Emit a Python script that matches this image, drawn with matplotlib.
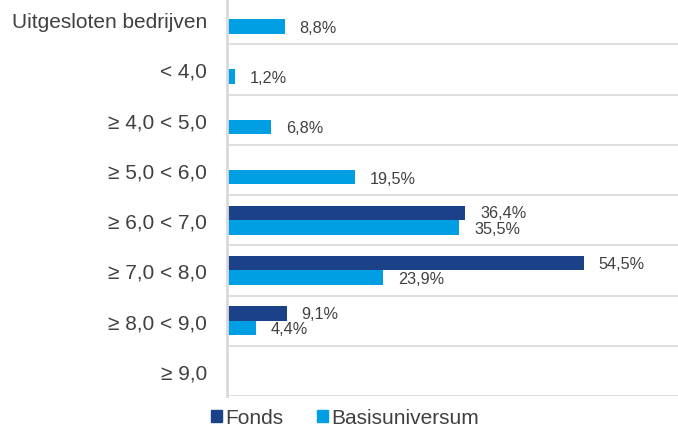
import matplotlib.pyplot as plt
import numpy as np
from matplotlib.patches import Patch

categories = [
    "Uitgesloten bedrijven",
    "< 4,0",
    "≥ 4,0 < 5,0",
    "≥ 5,0 < 6,0",
    "≥ 6,0 < 7,0",
    "≥ 7,0 < 8,0",
    "≥ 8,0 < 9,0",
    "≥ 9,0",
]
fonds = [None, None, None, None, 36.4, 54.5, 9.1, None]
basis = [8.8, 1.2, 6.8, 19.5, 35.5, 23.9, 4.4, None]

dark_blue = "#1b4288"
light_blue = "#009fe3"
text_color = "#404040"
grid_color = "#d9d9d9"

plt.rcParams["font.family"] = ["Liberation Sans", "DejaVu Sans"]

fig = plt.figure(figsize=(6.78, 4.27), dpi=100)
ax = fig.add_axes([227 / 678, 30 / 427, 458 / 678, 402 / 427])

y = np.arange(len(categories))
bar_h = 0.29
off = 0.145

for i in range(len(categories)):
    if fonds[i] is not None:
        ax.barh(y[i] - off, fonds[i], height=bar_h, color=dark_blue)
        ax.text(fonds[i] + 2.3, y[i] - off, f"{fonds[i]:.1f}%".replace(".", ","),
                va="center", ha="left", fontsize=11.7, color=text_color)
    if basis[i] is not None:
        ax.barh(y[i] + off, basis[i], height=bar_h, color=light_blue)
        ax.text(basis[i] + 2.3, y[i] + off + 0.02, f"{basis[i]:.1f}%".replace(".", ","),
                va="center", ha="left", fontsize=11.7, color=text_color)

ax.set_xlim(0, 70)
ax.set_ylim(len(categories) - 0.5, -0.5)
ax.set_yticks(y)
ax.set_yticklabels(categories, fontsize=15, color=text_color)
ax.tick_params(axis="y", length=0, pad=14.4)
ax.set_xticks([])

for b in np.arange(-0.5, len(categories), 1.0):
    ax.axhline(b, color=grid_color, linewidth=1.2, zorder=0)

for s in ["top", "right", "bottom"]:
    ax.spines[s].set_visible(False)
ax.spines["left"].set_color(grid_color)
ax.spines["left"].set_linewidth(2)

handles = [Patch(color=dark_blue, label="Fonds"), Patch(color=light_blue, label="Basisuniversum")]
fig.legend(handles=handles, loc="center", bbox_to_anchor=(345 / 678, 1 - 419 / 427),
           ncol=2, frameon=False, fontsize=15, handlelength=0.55, handleheight=0.55,
           handletextpad=0.15, columnspacing=1.6, labelcolor=text_color)

fig.savefig("out.png", dpi=100)
